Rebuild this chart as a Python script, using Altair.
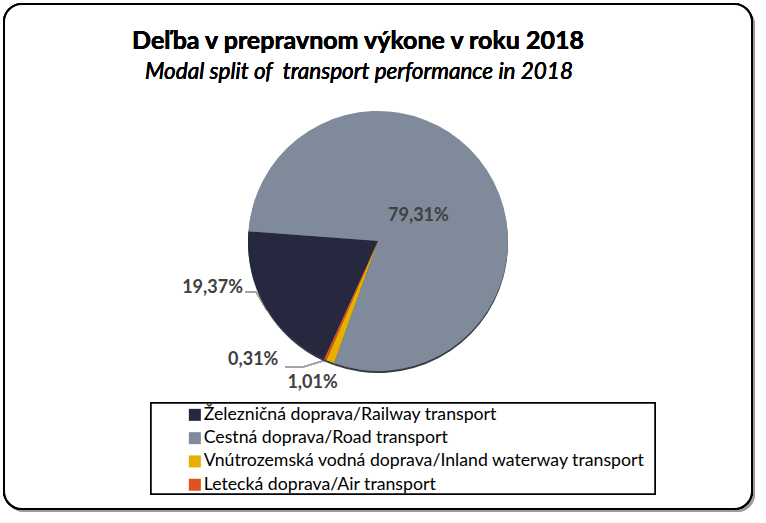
import math
import altair as alt
import pandas as pd

categories = [
    "Železničná doprava/Railway transport",
    "Cestná doprava/Road transport",
    "Vnútrozemská vodná doprava/Inland waterway transport",
    "Letecká doprava/Air transport",
]
shares = [19.37, 79.31, 1.01, 0.31]
labels = ["19,37%", "79,31%", "1,01%", "0,31%"]
colors = ["#262840", "#7f8b9b", "#e6b000", "#e0521e"]
order = [0, 1, 2, 3]

title_text = "Deľba v prepravnom výkone v roku 2018"
subtitle_text = "Modal split of\u00a0 transport performance in 2018"

df = pd.DataFrame({"category": categories, "share": shares, "label": labels, "order": order})

FONT = "Lato"
CX, CY, R = 378, 241, 130
start = math.radians(204.5)
theta_scale = alt.Scale(domain=[0, 100], range=[start, start + 2 * math.pi])
color_scale = alt.Scale(domain=categories, range=colors)

base = alt.Chart(df)

shadow = base.mark_rect(fill="#9a9a9a", opacity=0.6, cornerRadius=18).encode(
    x=alt.value(6), y=alt.value(7), x2=alt.value(755), y2=alt.value(512)
)
frame = base.mark_rect(fill="white", stroke="black", strokeWidth=2, cornerRadius=18).encode(
    x=alt.value(4), y=alt.value(4), x2=alt.value(752), y2=alt.value(509)
)
legend_box = base.mark_rect(fill="white", stroke="black", strokeWidth=1.5).encode(
    x=alt.value(151), y=alt.value(403), x2=alt.value(655), y2=alt.value(494)
)

title = base.mark_text(text=title_text, font=FONT, fontSize=25, fontWeight="bold",
                       color="black", align="center", baseline="alphabetic").encode(
    x=alt.value(358), y=alt.value(49)
)
subtitle = base.mark_text(text=subtitle_text, font=FONT, fontSize=22.5, fontStyle="italic",
                          color="black", align="center", baseline="alphabetic").encode(
    x=alt.value(359), y=alt.value(79)
)

rim = base.mark_arc(radius=R, fill="#363b44").encode(
    x=alt.value(CX), y=alt.value(CY + 2),
    theta=alt.Theta("share:Q", stack=True, scale=theta_scale),
    order=alt.Order("order:Q"),
)

pie = base.mark_arc(radius=R).encode(
    x=alt.value(CX), y=alt.value(CY),
    theta=alt.Theta("share:Q", stack=True, scale=theta_scale),
    color=alt.Color(
        "category:N", scale=color_scale, sort=categories,
        legend=alt.Legend(
            title=None, orient="none", legendX=186, legendY=406,
            symbolType="square", symbolSize=144, symbolStrokeWidth=0,
            labelFont=FONT, labelFontSize=17.7, labelColor="black",
            labelOffset=0, rowPadding=4.3, labelLimit=600, padding=0,
        ),
    ),
    order=alt.Order("order:Q"),
)

stacked = base.transform_stack(
    stack="share", as_=["s0", "s1"], groupby=[], sort=[alt.SortField("order")]
).transform_calculate(mid="(datum.s0 + datum.s1) / 2")


def label_layer(name, radius, dx, dy):
    return stacked.transform_filter(alt.datum.label == name).mark_text(
        radius=radius, dx=dx, dy=dy, font=FONT, fontSize=18, fontWeight="bold",
        color="#404040", align="center", baseline="middle",
    ).encode(
        x=alt.value(CX), y=alt.value(CY),
        theta=alt.Theta("mid:Q", stack=None, scale=theta_scale),
        text="label:N",
    )


lbl_road = label_layer("79,31%", 47, 1, 1)
lbl_rail = label_layer("19,37%", 140, -45, -24)
lbl_water = label_layer("1,01%", 140, -14, 12)
lbl_air = label_layer("0,31%", 140, -68, -9)

lead_style = dict(color="#a6a6a6", strokeWidth=1.5)
lead1 = base.mark_rule(**lead_style).encode(x=alt.value(245), y=alt.value(292), x2=alt.value(256), y2=alt.value(292))
lead2 = base.mark_rule(**lead_style).encode(x=alt.value(256), y=alt.value(292), x2=alt.value(267), y2=alt.value(310))
lead3 = base.mark_rule(**lead_style).encode(x=alt.value(285), y=alt.value(367), x2=alt.value(303), y2=alt.value(367))
lead4 = base.mark_rule(**lead_style).encode(x=alt.value(303), y=alt.value(367), x2=alt.value(326), y2=alt.value(360))

chart = alt.layer(
    shadow, frame, legend_box, title, subtitle,
    lead1, lead2, lead3, lead4,
    rim, pie, lbl_road, lbl_rail, lbl_water, lbl_air,
).properties(
    width=766, height=523, padding=0, autosize=alt.AutoSizeParams(type="none")
).configure_view(stroke=None)

chart.save("out.html", embed_options={"renderer": "svg", "actions": False})
